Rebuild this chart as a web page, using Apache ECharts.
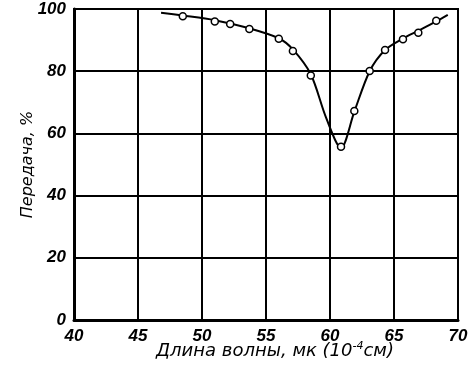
<!DOCTYPE html>
<html><head><meta charset="utf-8">
<script src="https://cdn.jsdelivr.net/npm/echarts@6/dist/echarts.min.js"></script>
<style>html,body{margin:0;padding:0;background:#fff}#c{width:473px;height:371px}</style>
</head><body><div id="c"></div>
<script>
// Measured points (hollow circles)
const pointX = [48.5, 51.0, 52.2, 53.7, 56.0, 57.1, 58.5, 60.86, 61.9, 63.1, 64.3, 65.7, 66.9, 68.3];
const pointY = [97.7, 96.0, 95.2, 93.6, 90.4, 86.5, 78.6, 55.7, 67.2, 80.1, 86.8, 90.3, 92.4, 96.2];
// Drawn curve through the points
const curveX = [46.8, 48.5, 51.0, 53.7, 56.0, 57.1, 58.5, 59.7, 60.86, 61.9, 63.1, 64.3, 65.7, 66.9, 68.3, 69.2];
const curveY = [98.8, 97.9, 96.4, 93.8, 90.6, 87.0, 79.0, 65.0, 55.3, 67.0, 80.0, 86.8, 90.5, 93.0, 96.0, 98.1];
const xTicks = [40, 45, 50, 55, 60, 65, 70];
const yTicks = [0, 20, 40, 60, 80, 100];

const font = 'Liberation Sans';
const nameFont = 'DejaVu Sans';
const chart = echarts.init(document.getElementById('c'));
chart.setOption({
  animation: false,
  backgroundColor: '#fff',
  grid: {left: 74, right: 15, top: 9, bottom: 51, show: true, borderColor: '#000', borderWidth: 2,
         containLabel: false, outerBoundsMode: 'none'},
  xAxis: {
    type: 'value', min: xTicks[0], max: xTicks[xTicks.length - 1], interval: 5,
    axisLine: {show: true, lineStyle: {color: '#000', width: 3}},
    axisTick: {show: false},
    splitLine: {show: true, lineStyle: {color: '#000', width: 2}},
    axisLabel: {color: '#000', fontFamily: font, fontStyle: 'italic', fontWeight: 'bold', fontSize: 17, margin: 8},
    name: 'Длина волны, мк (10{sup|-4}см)',
    nameLocation: 'middle', nameGap: 21, nameMoveOverlap: false,
    nameTextStyle: {color: '#000', fontFamily: nameFont, fontStyle: 'italic', fontSize: 18, padding: [0, 0, 0, 18],
      rich: {sup: {fontFamily: nameFont, fontStyle: 'italic', fontSize: 11, color: '#000', padding: [0, 0, 10, 0]}}}
  },
  yAxis: {
    type: 'value', min: yTicks[0], max: yTicks[yTicks.length - 1], interval: 20,
    axisLine: {show: true, lineStyle: {color: '#000', width: 3}},
    axisTick: {show: false},
    splitLine: {show: true, lineStyle: {color: '#000', width: 2}},
    axisLabel: {color: '#000', fontFamily: font, fontStyle: 'italic', fontWeight: 'bold', fontSize: 17, margin: 8},
    name: 'Передача, %',
    nameLocation: 'middle', nameGap: 38, nameMoveOverlap: false,
    nameTextStyle: {color: '#000', fontFamily: nameFont, fontStyle: 'italic', fontSize: 16}
  },
  series: [
    {
      type: 'line', data: curveX.map((x, i) => [x, curveY[i]]),
      smooth: 0.3, showSymbol: false, lineStyle: {color: '#000', width: 2}, z: 3
    },
    {
      type: 'scatter', data: pointX.map((x, i) => [x, pointY[i]]),
      symbol: 'circle', symbolSize: 7,
      itemStyle: {color: '#fff', borderColor: '#000', borderWidth: 1.5, opacity: 1}, z: 4
    }
  ]
});
</script></body></html>
